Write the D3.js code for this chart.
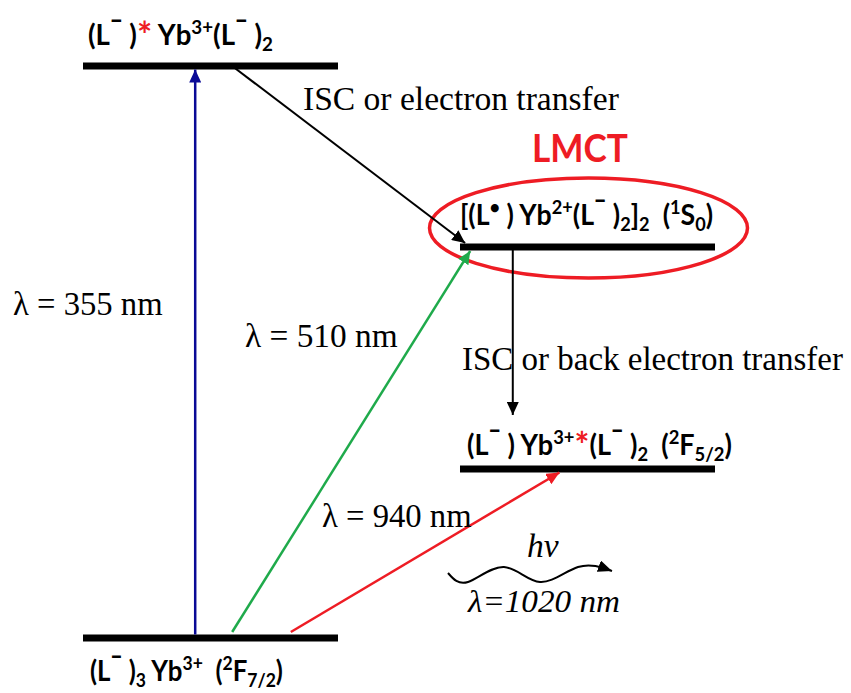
<!DOCTYPE html>
<html><head><meta charset="utf-8">
<script src="https://cdn.jsdelivr.net/npm/d3@7"></script>
<style>body{margin:0;background:#fff;overflow:hidden}</style></head>
<body><svg id="c" width="851" height="693"></svg>
<script>
// ---------- data ----------
const levelKeys    = ["ground", "f52", "lmct", "excited"];
const levelEnergy  = [0, 2.955, 6.836, 10];          // schematic relative energy
const levelColumn  = ["left", "right", "right", "left"];
const levelLabels  = [
  "(L¯ )_{3} Yb^{3+}\u00A0\u00A0(^{2}F_{7/2})",
  "(L¯ ) Yb^{3+}*(L¯ )_{2}\u00A0\u00A0(^{2}F_{5/2})",
  "[(L^{•} ) Yb^{2+}(L¯ )_{2}]_{2}\u00A0\u00A0(^{1}S_{0})",
  "(L¯ )* Yb^{3+}(L¯ )_{2}"
];
const transitionFrom   = ["ground", "ground", "ground", "excited", "lmct"];
const transitionTo     = ["excited", "lmct", "f52", "lmct", "f52"];
const transitionLabels = ["λ = 355 nm", "λ = 510 nm", "λ = 940 nm",
                          "ISC or electron transfer", "ISC or back electron transfer"];
const transitionColors = ["#0a0a96", "#1faa4b", "#ee1c24", "#000000", "#000000"];
const emissionLabels   = ["hv", "λ=1020 nm"];
const groupTitle       = "LMCT";

// ---------- layout ----------
const svg = d3.select("#c");
const y = d3.scaleLinear().domain([0, 10]).range([638, 66]);
const x = d3.scaleBand().domain(["left", "right"]).range([83, 715]).paddingInner(0.3236);
const bw = x.bandwidth();
const lev = {};
levelKeys.forEach((k, i) => lev[k] = {e: levelEnergy[i], col: levelColumn[i], label: levelLabels[i]});

const tGeom = [
  {f0: 0.44,  d0: -3.5, f1: 0.44, d1: 3.5,  sw: 2.5},
  {f0: 0.585, d0: -6,   f1: 0.04, d1: 4,    sw: 2.5},
  {f0: 0.815, d0: -6,   f1: 0.39, d1: 3.5,  sw: 2.5},
  {f0: 0.59,  d0: 1,    f1: 0.02, d1: -4,   sw: 2},
  {f0: 0.207, d0: 3,    f1: 0.207, d1: -54, sw: 2}
];
const tLabelPos = [
  {x: 13, y: 315, w: 150}, {x: 245, y: 347, w: 153}, {x: 322, y: 527, w: 150},
  {x: 303, y: 110, w: 316}, {x: 462, y: 370, w: 381}
];
const lLabelPos = {
  ground: {x: 90, y: 681, w: 193}, f52: {x: 467, y: 455, w: 265},
  lmct: {x: 460, y: 225, w: 253}, excited: {x: 88, y: 45, w: 185}
};

const defs = svg.append("defs");
transitionColors.forEach((c, i) => {
  defs.append("marker").attr("id", "ah" + i)
    .attr("markerUnits", "userSpaceOnUse").attr("markerWidth", 13).attr("markerHeight", 12)
    .attr("viewBox", "0 0 13 12").attr("refX", 13).attr("refY", 6).attr("orient", "auto")
    .append("path").attr("d", "M0,0 L13,6 L0,12 Z").attr("fill", c);
});
defs.append("marker").attr("id", "ahw")
  .attr("markerUnits", "userSpaceOnUse").attr("markerWidth", 14).attr("markerHeight", 12)
  .attr("viewBox", "0 0 14 12").attr("refX", 14).attr("refY", 6).attr("orient", "auto")
  .append("path").attr("d", "M0,0 L14,6 L0,12 Z").attr("fill", "#000");

function richText(g, str, fs, family, weight, style) {
  const t = g.append("text").attr("font-family", family).attr("font-size", fs)
    .attr("font-weight", weight).attr("font-style", style || "normal").attr("fill", "#000")
    .attr("xml:space", "preserve");
  const toks = str.split(/(\^\{[^}]*\}|_\{[^}]*\}|¯|\*)/).filter(s => s.length);
  let cur = 0;
  toks.forEach(tok => {
    let txt = tok, shift = 0, size = fs, color = null, weightBar = null;
    if (tok.startsWith("^{")) { txt = tok.slice(2, -1); shift = -0.38 * fs; size = 0.68 * fs; }
    else if (tok.startsWith("_{")) { txt = tok.slice(2, -1); shift = 0.22 * fs; size = 0.68 * fs; }
    else if (tok === "¯") { shift = -0.1 * fs; size = 1.15 * fs; }
    else if (tok === "*") { color = "#ee1c24"; size = 1.3 * fs; shift = 0.1 * fs; }
    const sp = t.append("tspan").text(txt).attr("font-size", size).attr("dy", shift - cur);
    if (color) sp.attr("fill", color);
    cur = shift;
  });
  return t;
}
function fitText(t, px, py, w) {
  const bb = t.node().getBBox();
  t.attr("transform", `translate(${px},${py}) scale(${w / bb.width},1) translate(${-bb.x},0)`);
}

svg.append("ellipse")
  .attr("cx", x("right") + bw / 2 + 1).attr("cy", y(lev.lmct.e) - 19)
  .attr("rx", 159).attr("ry", 50)
  .attr("fill", "none").attr("stroke", "#ee1c24").attr("stroke-width", 3.5);

svg.selectAll("line.level").data(levelKeys).join("line").attr("class", "level")
  .attr("x1", k => x(lev[k].col)).attr("x2", k => x(lev[k].col) + bw)
  .attr("y1", k => y(lev[k].e)).attr("y2", k => y(lev[k].e))
  .attr("stroke", "#000").attr("stroke-width", 7);

transitionFrom.forEach((f, i) => {
  const g = tGeom[i], a = lev[f], b = lev[transitionTo[i]];
  const x0 = x(a.col) + bw * g.f0, y0 = y(a.e) + g.d0;
  const x1 = x(b.col) + bw * g.f1, y1 = y(b.e) + g.d1;
  svg.append("line").attr("x1", x0).attr("y1", y0).attr("x2", x1).attr("y2", y1)
    .attr("stroke", transitionColors[i]).attr("stroke-width", g.sw)
    .attr("marker-end", `url(#ah${i})`);
});

transitionLabels.forEach((s, i) => {
  const t = richText(svg.append("g"), s, 33, "'Liberation Serif','Times New Roman',serif", "normal");
  fitText(t, tLabelPos[i].x, tLabelPos[i].y, tLabelPos[i].w);
});

levelKeys.forEach(k => {
  const p = lLabelPos[k];
  const t = richText(svg.append("g"), lev[k].label, 28, "Lato,'Open Sans',sans-serif", "bold");
  fitText(t, p.x, p.y, p.w);
});

{
  const t = svg.append("text").text(groupTitle).attr("font-family", "Lato,'Open Sans',sans-serif")
    .attr("font-weight", "bold").attr("font-size", 39).attr("fill", "#ee1c24");
  fitText(t, 532, 162, 96);
}

const wave = [[448, 573], [468, 582], [504, 567], [540, 582], [578, 567], [612, 571]];
svg.append("path").attr("d", d3.line().curve(d3.curveNatural)(wave))
  .attr("fill", "none").attr("stroke", "#000").attr("stroke-width", 2)
  .attr("marker-end", "url(#ahw)");
{
  const t1 = richText(svg.append("g"), emissionLabels[0], 33, "'Liberation Serif',serif", "normal", "italic");
  fitText(t1, 527, 557, 32);
  const t2 = richText(svg.append("g"), emissionLabels[1], 32, "'Liberation Serif',serif", "normal", "italic");
  fitText(t2, 467, 612, 153);
}
</script></body></html>
